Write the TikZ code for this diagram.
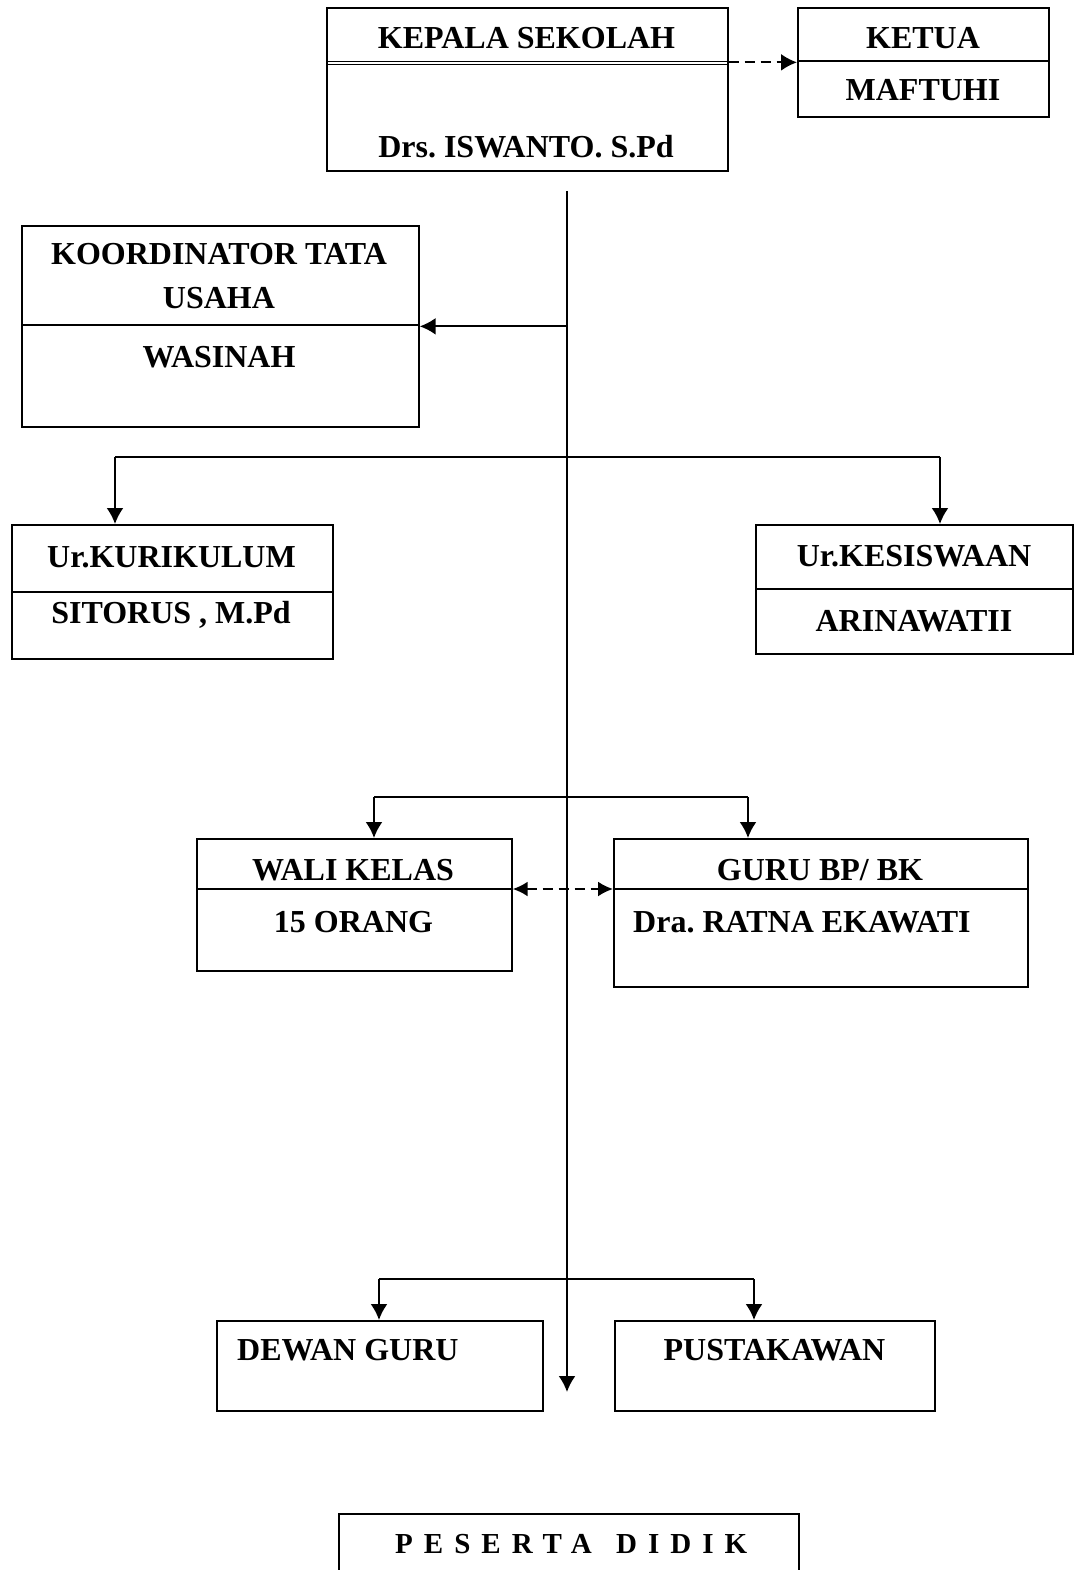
\documentclass[tikz,border=0pt]{standalone}
\usepackage{fontspec}
\setmainfont{Liberation Serif}
\newfontfamily\spacedfont[LetterSpace=38]{Liberation Serif}
\usetikzlibrary{arrows.meta}
\frenchspacing
\tikzset{
  box/.style={draw, line width=1.7pt, inner sep=0pt, anchor=north west},
  lbl/.style={font=\bfseries\fontsize{32}{37}\selectfont, anchor=base, inner sep=0pt},
  link/.style={line width=2.1pt, -{Latex[length=16pt,width=17pt]}},
  dlink/.style={link, dash pattern=on 10pt off 6pt},
  bothlink/.style={line width=2.1pt, dash pattern=on 10pt off 6pt,
    {Latex[length=15pt,width=15pt]}-{Latex[length=15pt,width=15pt]}},
}
\begin{document}
\begin{tikzpicture}[x=1pt,y=-1pt]
  \clip (0,0) rectangle (1074,1570);
  % boxes
  \foreach \n/\x/\y/\w/\h in {%
    kepala/326/7/401/163, ketua/797/7/251/109, koord/21/225/397/201,
    kurik/11/524/321/134, kesis/755/524/317/129, wali/196/838/315/132,
    gurubp/613/838/414/148, dewan/216/1320/326/90, pustaka/614/1320/320/90,
    peserta/338/1513/460/100}{
    \node[box, minimum width=\w pt, minimum height=\h pt] (\n) at (\x,\y) {};}
  % dividers
  \foreach \n/\y in {ketua/61, koord/325, kurik/592, kesis/589, wali/889, gurubp/889}{
    \draw[line width=1.7pt] (\n.west |- 0,\y) -- (\n.east |- 0,\y);}
  \draw[line width=1.2pt] (kepala.west |- 0,61.5) -- (kepala.east |- 0,61.5)
    (kepala.west |- 0,64.5) -- (kepala.east |- 0,64.5);
  % labels
  \foreach \n/\x/\y/\t in {%
    kepalaT/526.5/49/KEPALA SEKOLAH, kepalaN/526/158/Drs. ISWANTO. S.Pd,
    ketuaT/923/49/KETUA, ketuaN/923/101/MAFTUHI,
    koordT/219/265/KOORDINATOR TATA, koordU/219/308/USAHA, koordN/219/367/WASINAH,
    kurikT/171.5/567/Ur.KURIKULUM, kurikN/171/623/{SITORUS , M.Pd},
    kesisT/914/566/Ur.KESISWAAN, kesisN/914/631/ARINAWATII,
    waliT/353/880/WALI KELAS, waliN/353.5/932/15 ORANG,
    gurubpT/820/880/{GURU BP/ BK}, pustakaT/774.5/1360/PUSTAKAWAN}{
    \node[lbl] (\n) at (\x,\y) {\t};}
  \node[lbl, anchor=base west] (gurubpN) at (633,932) {Dra. RATNA EKAWATI};
  \node[lbl, anchor=base west] (dewanT) at (237,1360) {DEWAN GURU};
  \node[lbl, anchor=base west, font=\spacedfont\bfseries\fontsize{29}{34}\selectfont]
    (pesertaT) at (395,1553) {PESERTA\hspace{6pt} DIDIK};
  % connectors
  \coordinate (trunkTop) at (567,191);
  \coordinate (trunkEnd) at (567,1392);
  \coordinate (brA) at (115,457);  \coordinate (brB) at (940,457);
  \coordinate (brC) at (374,797);  \coordinate (brD) at (748,797);
  \coordinate (brE) at (379,1279); \coordinate (brF) at (754,1279);
  \draw[link] (trunkTop) -- (trunkEnd);
  \draw[dlink] (kepala.east |- ketua.west) -- (ketua.west);
  \draw[link] (trunkTop |- koord.east) -- (koord.east);
  \foreach \a/\b/\p/\q in {brA/brB/kurik/kesis, brC/brD/wali/gurubp, brE/brF/dewan/pustaka}{
    \draw[line width=2.1pt] (\a) -- (\b);
    \draw[link] (\a) -- (\a |- \p.north);
    \draw[link] (\b) -- (\b |- \q.north);}
  \draw[bothlink] (wali.east |- 0,889) -- (gurubp.west |- 0,889);
\end{tikzpicture}
\end{document}
